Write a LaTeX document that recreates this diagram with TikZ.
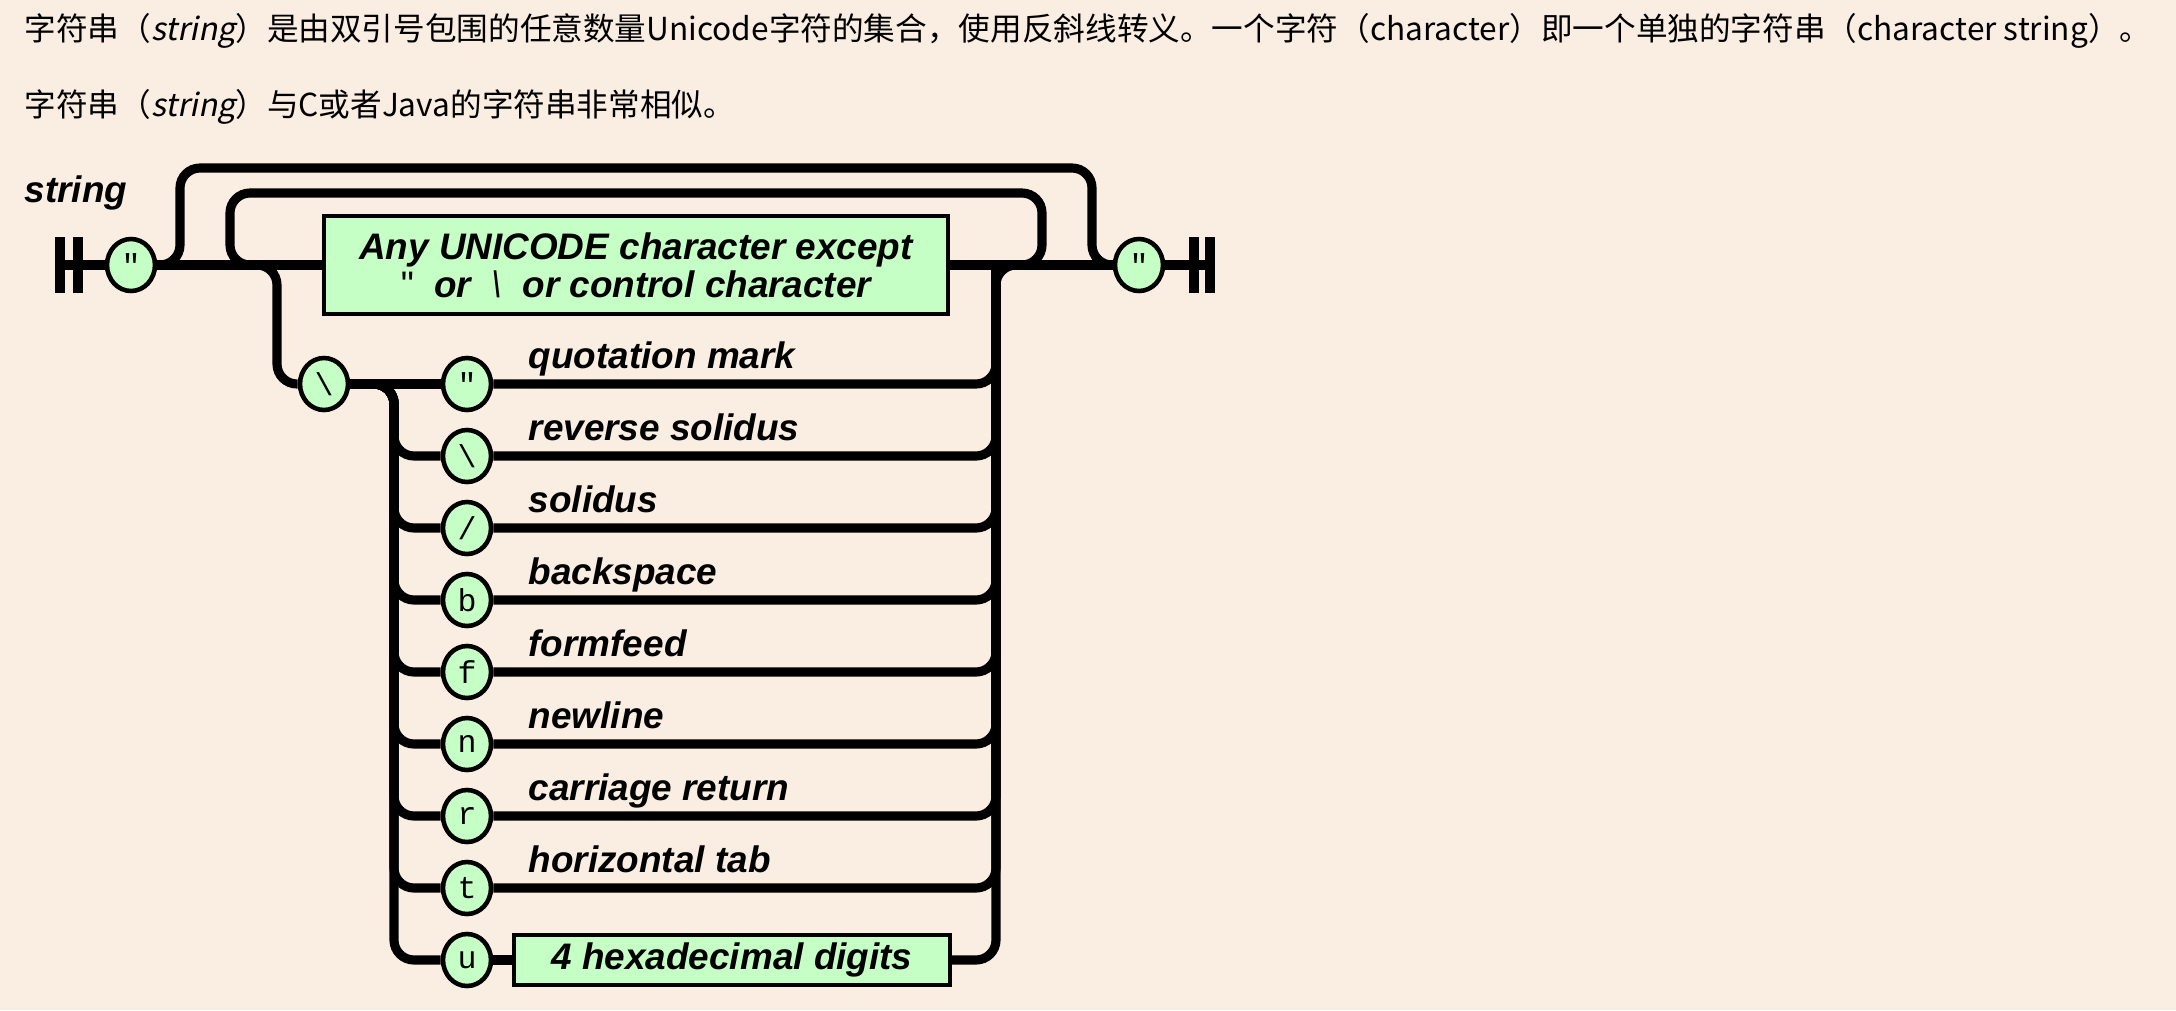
\documentclass[tikz,border=0pt]{standalone}
\usepackage{fontspec}
\setsansfont{Liberation Sans}
\setmonofont{Liberation Mono}
\newfontfamily\cjk[AutoFakeSlant=0.2]{Noto Sans CJK SC}
\usetikzlibrary{positioning, shapes.geometric, backgrounds}
\definecolor{pagebg}{RGB}{250,237,226}
\definecolor{tokengreen}{RGB}{198,255,198}

\begin{document}
\begin{tikzpicture}[
    font=\sffamily\bfseries\itshape\fontsize{10.5}{12}\selectfont,
    % Track styles
    track/.style={line width=2.6pt, rounded corners=0.2cm},
    endbar/.style={line width=2.8pt},
    % Node styles
    token/.style={ellipse, draw, line width=1.3pt, fill=tokengreen, minimum width=0.48cm, minimum height=0.52cm, inner sep=0pt, font=\ttfamily\mdseries\upshape\fontsize{9}{9}\selectfont},
    rulebox/.style={rectangle, draw, line width=1.2pt, fill=tokengreen, align=center, inner sep=0pt},
    caption/.style={anchor=base west, inner sep=0pt},
    prose/.style={anchor=west, inner sep=0pt, font=\cjk\mdseries\upshape\fontsize{9}{11}\selectfont}
]
\useasboundingbox (0,0) rectangle (21.76,-10.10);

% =========================================================
% TEXT ABOVE THE DIAGRAM
% =========================================================
\node[prose] (lineOne) at (0.24,-0.31) {字符串（\textit{string}）是由双引号包围的任意数量Unicode字符的集合，使用反斜线转义。一个字符（character）即一个单独的字符串（character string）。};
\node[prose] (lineTwo) at (0.24,-1.07) {字符串（\textit{string}）与C或者Java的字符串非常相似。};

% =========================================================
% MAIN TRACK
% =========================================================
\node[caption] (ruleName) at (0.24,-2.02) {string};

\coordinate (startbar) at (0.60,-2.65);
\node[token] (openq) at (1.31,-2.65) {"};
\node[rulebox, minimum width=6.24cm, minimum height=0.98cm, font=\sffamily\bfseries\itshape\fontsize{10.5}{10.9}\selectfont] (anychar) at (6.36,-2.65)
    {Any UNICODE character except\\{\mdseries\upshape\textquotedbl}~~or~~{\mdseries\textbackslash}~~or control character};
\node[token] (closeq) at (11.39,-2.65) {"};
\coordinate (endbar) at (12.10,-2.65);

% loop corners
\coordinate (skipL) at (1.80,-1.68);
\coordinate (skipR) at (10.92,-1.68);
\coordinate (loopL) at (2.30,-1.93);
\coordinate (loopR) at (10.42,-1.93);
\coordinate (split) at (2.77,-2.65);
\coordinate (rejoin) at (9.96,-2.65);

% =========================================================
% ESCAPE BRANCH
% =========================================================
\node[token] (escape) at (3.24,-3.84) {\textbackslash};
\coordinate (fork) at (3.94,-3.84);

\foreach \i/\ch/\lab in {0/"/quotation mark, 1/\textbackslash/reverse solidus, 2/\slash/solidus, 3/b/backspace, 4/f/formfeed, 5/n/newline, 6/r/carriage return, 7/t/horizontal tab} {
    \node[token] (esc\i) at (4.67,-3.84-0.72*\i) {\ch};
    \node[caption] (lab\i) at (5.28,-3.68-0.72*\i) {\lab};
}
\node[token] (escu) at (4.67,-9.60) {u};
\node[rulebox, minimum width=4.36cm, minimum height=0.50cm] (hexbox) at (7.32,-9.60) {4 hexadecimal digits};

% =========================================================
% TRACKS (behind the nodes)
% =========================================================
\begin{scope}[on background layer]
    \fill[pagebg] (0,0) rectangle (21.76,-10.10);

    % terminal bars
    \draw[endbar] ([yshift=0.28cm]startbar) -- ([yshift=-0.28cm]startbar);
    \draw[endbar] ([shift={(0.18,0.28)}]startbar) -- ([shift={(0.18,-0.28)}]startbar);
    \draw[endbar] ([yshift=0.28cm]endbar) -- ([yshift=-0.28cm]endbar);
    \draw[endbar] ([shift={(-0.16,0.28)}]endbar) -- ([shift={(-0.16,-0.28)}]endbar);

    % straight run
    \draw[track] (startbar) -- (openq.west);
    \draw[track] (openq.east) -- (anychar.west);
    \draw[track] (anychar.east) -- (closeq.west);
    \draw[track] (closeq.east) -- (endbar);

    % empty string and repeat loops
    \draw[track] (openq.east) -| (skipL) -- (skipR) |- (closeq.west);
    \draw[track] (anychar.east) -| (loopR) -- (loopL) |- (anychar.west);

    % down into the escapes
    \draw[track] (openq.east) -- (split) |- (escape.west);
    \draw[track] (escape.east) -- (esc0.west);
    \foreach \i in {1,...,7} {
        \draw[track] (escape.east) -- (fork) |- (esc\i.west);
    }
    \draw[track] (escape.east) -- (fork) |- (escu.west);
    \draw[track] (escu.east) -- (hexbox.west);

    % back up to the main track
    \foreach \i in {0,...,7} {
        \draw[track] (esc\i.east) -| (rejoin);
    }
    \draw[track] (hexbox.east) -| (rejoin) -- (closeq.west);
\end{scope}

\end{tikzpicture}
\end{document}
